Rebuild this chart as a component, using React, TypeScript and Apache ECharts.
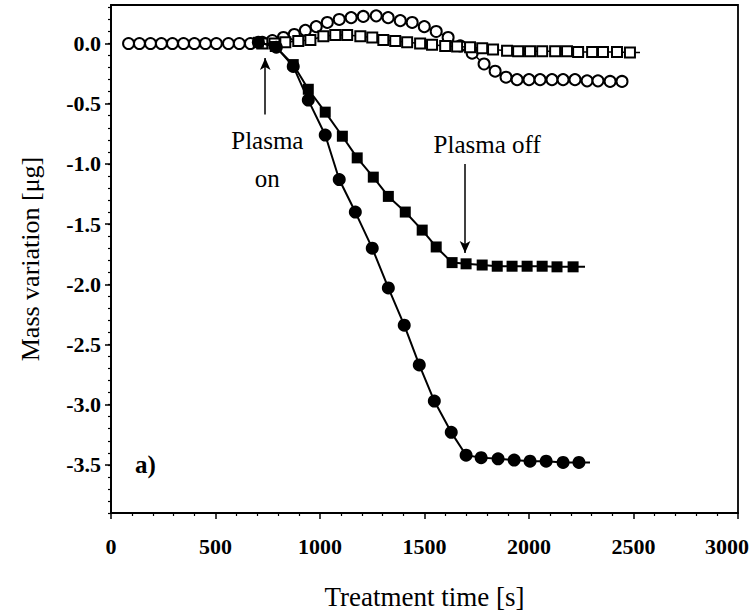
import React, { useEffect, useRef } from "react";
import * as echarts from "echarts";

// Open circles
const openCircleT = [84, 136, 189, 241, 294, 347, 399, 452, 504, 562, 614, 667, 724, 772, 825, 877, 930, 982, 1035, 1092, 1149, 1207, 1269, 1326, 1384, 1441, 1499, 1556, 1613, 1671, 1728, 1785, 1838, 1890, 1943, 2000, 2053, 2110, 2163, 2220, 2278, 2330, 2388, 2445];
const openCircleV = [0, 0, 0, 0, 0, 0, 0, 0, 0, 0, 0, 0, 0.01, 0.025, 0.05, 0.075, 0.11, 0.14, 0.175, 0.2, 0.215, 0.225, 0.23, 0.215, 0.19, 0.175, 0.14, 0.1, 0.05, -0.02, -0.08, -0.17, -0.23, -0.28, -0.3, -0.3, -0.3, -0.3, -0.3, -0.3, -0.31, -0.31, -0.315, -0.315];

// Open squares
const openSquareT = [724, 782, 834, 896, 954, 1016, 1073, 1130, 1193, 1250, 1303, 1360, 1417, 1479, 1536, 1599, 1656, 1718, 1776, 1828, 1895, 1948, 2005, 2063, 2125, 2182, 2235, 2302, 2354, 2421, 2483];
const openSquareV = [0, 0, 0.01, 0.02, 0.03, 0.06, 0.07, 0.07, 0.06, 0.05, 0.03, 0.02, 0.01, 0, -0.01, -0.02, -0.025, -0.03, -0.04, -0.05, -0.06, -0.065, -0.065, -0.065, -0.065, -0.065, -0.07, -0.07, -0.07, -0.07, -0.075];
const openSquareTail = [2531, -0.075];

// Filled circles
const filledCircleT = [705, 791, 872, 944, 1025, 1092, 1169, 1250, 1327, 1403, 1475, 1547, 1628, 1699, 1771, 1852, 1929, 2005, 2082, 2163, 2239];
const filledCircleV = [0.01, -0.03, -0.19, -0.47, -0.76, -1.13, -1.4, -1.7, -2.03, -2.34, -2.67, -2.97, -3.23, -3.42, -3.44, -3.45, -3.46, -3.47, -3.47, -3.48, -3.48];
const filledCircleTail = [2292, -3.48];

// Filled squares
const filledSquareT = [705, 786, 872, 944, 1025, 1107, 1178, 1255, 1327, 1408, 1489, 1556, 1632, 1699, 1776, 1848, 1919, 1991, 2063, 2134, 2211];
const filledSquareV = [0.01, -0.025, -0.175, -0.38, -0.57, -0.77, -0.95, -1.11, -1.27, -1.4, -1.55, -1.69, -1.82, -1.83, -1.84, -1.85, -1.85, -1.85, -1.85, -1.855, -1.855];
const filledSquareTail = [2268, -1.855];

// Axis ticks
const yMajorTicks = [0, -0.5, -1, -1.5, -2, -2.5, -3, -3.5];
const yMinorTicks = [0.3, 0.2, 0.1, 0, -0.1, -0.2, -0.3, -0.4, -0.5, -0.6, -0.7, -0.8, -0.9, -1, -1.1, -1.2, -1.3, -1.4, -1.5, -1.6, -1.7, -1.8, -1.9, -2, -2.1, -2.2, -2.3, -2.4, -2.5, -2.6, -2.7, -2.8, -2.9, -3, -3.1, -3.2, -3.3, -3.4, -3.5, -3.6, -3.7, -3.8, -3.9];

const FONT = "'Liberation Serif', 'DejaVu Serif', serif";

function zip(t: number[], v: number[]) {
  return t.map((x, i) => [x, v[i]]);
}

export default function App() {
  const ref = useRef<HTMLDivElement>(null);
  useEffect(() => {
    if (!ref.current) return;
    const chart = echarts.init(ref.current, null, { renderer: "svg" });
    const tickLabel = { color: "#000", fontFamily: FONT, fontSize: 22, fontWeight: "bold" as const };
    const option: any = {
      animation: false,
      backgroundColor: "#fff",
      grid: {
        left: 111, right: 12, top: 5, bottom: 103,
        containLabel: false, outerBoundsMode: "none",
        show: true, borderColor: "#000", borderWidth: 1.8, backgroundColor: "transparent",
      },
      xAxis: {
        type: "value",
        min: 0,
        max: 3000,
        interval: 500,
        name: "Treatment time [s]",
        nameLocation: "middle",
        nameGap: 70,
        nameTextStyle: { color: "#000", fontFamily: FONT, fontSize: 27 },
        axisLine: { show: true, onZero: false, lineStyle: { color: "#000", width: 1.8 } },
        axisTick: { show: true, length: 6, lineStyle: { color: "#000", width: 1.5 } },
        minorTick: { show: true, splitNumber: 5, length: 3, lineStyle: { color: "#000", width: 1.2 } },
        splitLine: { show: false },
        axisLabel: {
          ...tickLabel,
          margin: 22,
          formatter: (v: number) => (v === 3000 ? "{last|" + v + "}" : String(v)),
          rich: { last: { ...tickLabel, padding: [0, 22, 0, 0] } },
        },
      },
      yAxis: [
        {
          type: "value",
          min: -3.9,
          max: 0.32,
          name: "Mass variation [\u03bcg]",
          nameLocation: "middle",
          nameGap: 68,
          nameTextStyle: { color: "#000", fontFamily: FONT, fontSize: 26 },
          axisLine: { show: true, onZero: false, lineStyle: { color: "#000", width: 1.8 } },
          axisTick: { show: true, length: 6, customValues: yMajorTicks, lineStyle: { color: "#000", width: 1.5 } },
          splitLine: { show: false },
          axisLabel: { ...tickLabel, margin: 10, customValues: yMajorTicks, formatter: (v: number) => v.toFixed(1) },
        },
        {
          type: "value",
          min: -3.9,
          max: 0.32,
          position: "left",
          axisLine: { show: false, onZero: false },
          axisTick: { show: true, length: 3, customValues: yMinorTicks, lineStyle: { color: "#000", width: 1.2 } },
          axisLabel: { show: false },
          splitLine: { show: false },
        },
      ],
      series: [
        {
          type: "line",
          data: zip(openCircleT, openCircleV),
          symbol: "circle",
          symbolSize: 11,
          showAllSymbol: true,
          lineStyle: { color: "#000", width: 1.5 },
          itemStyle: { color: "#fff", borderColor: "#000", borderWidth: 2 },
          z: 2,
        },
        {
          type: "line",
          data: [...zip(openSquareT, openSquareV), { value: openSquareTail, symbol: "none" }],
          symbol: "rect",
          symbolSize: 10,
          showAllSymbol: true,
          lineStyle: { color: "#000", width: 1.5 },
          itemStyle: { color: "#fff", borderColor: "#000", borderWidth: 2 },
          z: 3,
        },
        {
          type: "line",
          data: [...zip(filledCircleT, filledCircleV), { value: filledCircleTail, symbol: "none" }],
          symbol: "circle",
          symbolSize: 13,
          showAllSymbol: true,
          lineStyle: { color: "#000", width: 2 },
          itemStyle: { color: "#000" },
          z: 4,
          markPoint: {
            silent: true,
            symbol: "circle",
            symbolSize: 0,
            data: [
              { coord: [748, -0.96], label: { formatter: "Plasma\non", lineHeight: 38 } },
              { coord: [1800, -0.84], label: { formatter: "Plasma off" } },
              { coord: [165, -3.5], label: { formatter: "a)", fontWeight: "bold", fontSize: 25 } },
            ],
            label: { show: true, position: "inside", color: "#000", fontFamily: FONT, fontSize: 25, align: "center" },
          },
        },
        {
          type: "line",
          data: [...zip(filledSquareT, filledSquareV), { value: filledSquareTail, symbol: "none" }],
          symbol: "rect",
          symbolSize: 11,
          showAllSymbol: true,
          lineStyle: { color: "#000", width: 2 },
          itemStyle: { color: "#000" },
          z: 5,
          markLine: {
            silent: true,
            symbol: ["none", "arrow"],
            symbolSize: [8, 12],
            label: { show: false },
            lineStyle: { color: "#000", width: 1.5, type: "solid" },
            data: [
              [{ coord: [738, -0.59] }, { coord: [738, -0.12] }],
              [{ coord: [1694, -1.0] }, { coord: [1694, -1.74] }],
            ],
          },
        },
      ],
    };
    chart.setOption(option);
    return () => chart.dispose();
  }, []);
  return <div ref={ref} style={{ position: "fixed", left: 0, top: 0, width: 750, height: 616 }} />;
}
